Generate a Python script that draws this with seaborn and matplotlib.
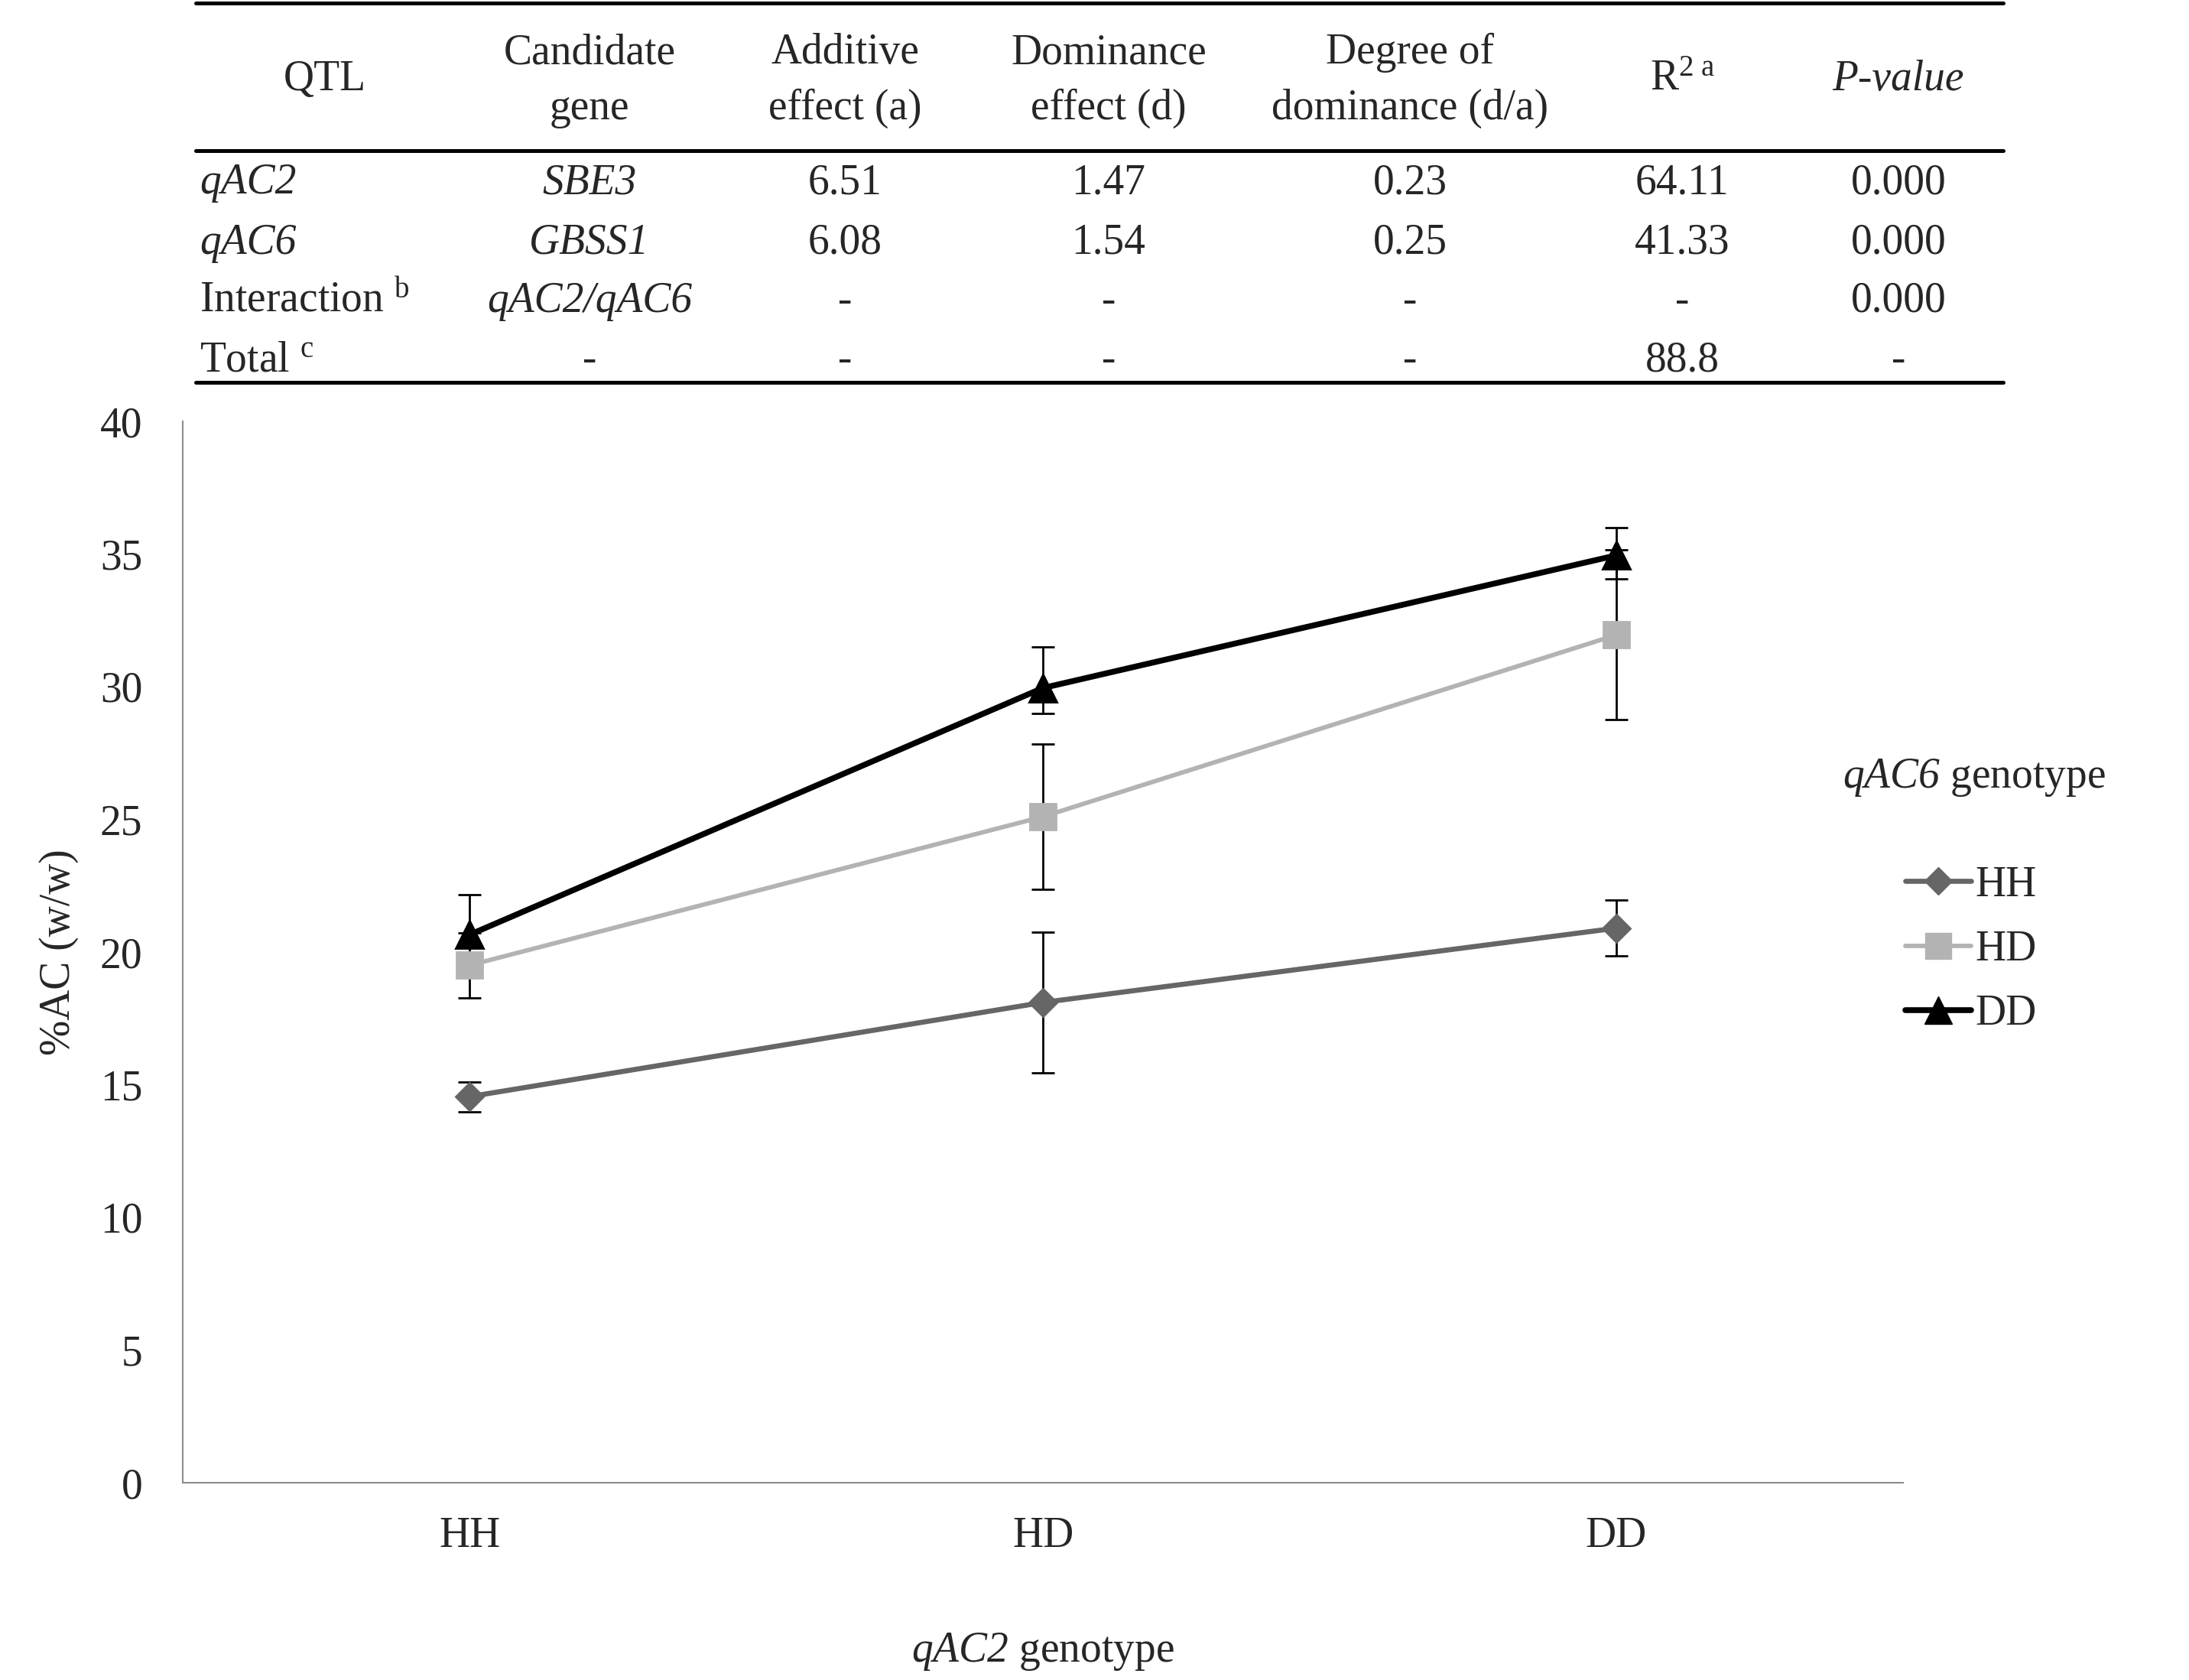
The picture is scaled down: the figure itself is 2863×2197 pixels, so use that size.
import numpy as np
import pandas as pd
import matplotlib.pyplot as plt
from matplotlib.lines import Line2D
import seaborn as sns

# Dữ liệu: %AC theo kiểu gen qAC2 (trục x) và qAC6 (chuỗi)
qac2_levels = ['HH', 'HD', 'DD']
qac6_levels = ['HH', 'HD', 'DD']
mean_hh = [14.55, 18.1, 20.9]
mean_hd = [19.5, 25.1, 31.95]
mean_dd = [20.65, 29.95, 34.95]
err_hh = [0.56, 2.65, 1.05]
err_hd = [1.23, 2.75, 3.2]
err_dd_low = [1.5, 0.95, 0.9]
err_dd_high = [1.5, 1.55, 1.05]

# Bảng phía trên
header = ['QTL', 'Candidate\ngene', 'Additive\neffect (a)', 'Dominance\neffect (d)',
          'Degree of\ndominance (d/a)', 'R', 'P-value']
qtl_col = ['qAC2', 'qAC6', 'Interaction', 'Total']
gene_col = ['SBE3', 'GBSS1', 'qAC2/qAC6', '-']
additive = ['6.51', '6.08', '-', '-']
dominance = ['1.47', '1.54', '-', '-']
degree = ['0.23', '0.25', '-', '-']
r2 = ['64.11', '41.33', '-', '88.8']
pval = ['0.000', '0.000', '0.000', '-']

sns.set_style('white')
plt.rcParams['font.family'] = ['Liberation Serif', 'DejaVu Serif']
plt.rcParams['mathtext.fontset'] = 'custom'
plt.rcParams['mathtext.rm'] = 'Liberation Serif'
plt.rcParams['mathtext.it'] = 'Liberation Serif:italic'
# dùng \mathsf cho chữ nghiêng kể cả chữ số
plt.rcParams['mathtext.sf'] = 'Liberation Serif:italic'

W, H = 2863, 2197
fig = plt.figure(figsize=(W / 100, H / 100), dpi=100)


def fx(x):
    return x / W


def fy(y):
    return 1 - y / H


# ---- bảng ----
FS = 40
for y in [4, 197, 500]:
    fig.add_artist(Line2D([fx(256), fx(2620)], [fy(y), fy(y)], color='black', lw=3.6))

col_x = [425, 771, 1105, 1450, 1844, 2200, 2483]
for i, h in enumerate(header):
    if '\n' in h:
        top, bot = h.split('\n')
        fig.text(fx(col_x[i]), fy(69), top, ha='center', va='center', fontsize=FS)
        fig.text(fx(col_x[i]), fy(142), bot, ha='center', va='center', fontsize=FS)
    elif h == 'R':
        fig.text(fx(col_x[i]), fy(104), r'R$^{2\ \mathrm{a}}$', ha='center', va='center', fontsize=FS)
    elif h == 'P-value':
        fig.text(fx(col_x[i]), fy(104), h, ha='center', va='center', fontsize=FS, style='italic')
    else:
        fig.text(fx(col_x[i]), fy(104), h, ha='center', va='center', fontsize=FS)

row_y = [239, 318, 394, 471]
sups = {'Interaction': 'b', 'Total': 'c'}
for r, y in enumerate(row_y):
    name = qtl_col[r]
    if name in sups:
        fig.text(fx(261), fy(y), name + r' $^{\mathrm{' + sups[name] + '}}$',
                 ha='left', va='center', fontsize=FS)
    else:
        fig.text(fx(261), fy(y), name, ha='left', va='center', fontsize=FS, style='italic')
    g = gene_col[r]
    fig.text(fx(col_x[1]), fy(y), g, ha='center', va='center', fontsize=FS,
             style='normal' if g == '-' else 'italic')
    for c, col in enumerate([additive, dominance, degree, r2, pval]):
        fig.text(fx(col_x[c + 2]), fy(y), col[r], ha='center', va='center', fontsize=FS)

# ---- biểu đồ đường ----
ax = fig.add_axes([fx(239), fy(1939), fx(2489) - fx(239), fy(551) - fy(1939)])

df = pd.DataFrame({
    'qAC2': qac2_levels * 3,
    'qAC6': np.repeat(qac6_levels, 3),
    'AC': mean_hh + mean_hd + mean_dd,
})
colors = {'HH': '#666666', 'HD': '#b3b3b3', 'DD': '#000000'}
markers = ['D', 's', '^']
msizes = {'D': 18, 's': 25, '^': 26}
lwidths = {'D': 4.8, 's': 4.2, '^': 5.5}

# thanh sai số (vẽ dưới đường)
x_pos = np.arange(len(qac2_levels))
ax.errorbar(x_pos, mean_hh, yerr=err_hh, fmt='none', ecolor='black', elinewidth=2,
            capsize=11, capthick=2, zorder=1)
ax.errorbar(x_pos, mean_hd, yerr=err_hd, fmt='none', ecolor='black', elinewidth=2,
            capsize=11, capthick=2, zorder=1)
ax.errorbar(x_pos, mean_dd, yerr=[err_dd_low, err_dd_high], fmt='none', ecolor='black',
            elinewidth=2, capsize=11, capthick=2, zorder=1)

sns.pointplot(data=df, x='qAC2', y='AC', hue='qAC6', order=qac2_levels,
              hue_order=qac6_levels, palette=colors, markers=markers,
              linestyles='-', errorbar=None, ax=ax, legend=False)
for ln in ax.lines:
    m = ln.get_marker()
    if m in msizes:
        ln.set_markersize(msizes[m])
        ln.set_linewidth(lwidths[m])
        ln.set_zorder(3)

ax.set_xlim(-0.5, 2.5)
ax.set_ylim(0, 40)
ax.set_yticks(np.arange(0, 41, 5))
ax.set_xlabel('')
ax.set_ylabel('')
ax.tick_params(axis='both', length=0, labelsize=40)
ax.tick_params(axis='x', pad=32)
ax.tick_params(axis='y', pad=38)
for s in ['top', 'right']:
    ax.spines[s].set_visible(False)
for s in ['left', 'bottom']:
    ax.spines[s].set_color('#8c8c8c')
    ax.spines[s].set_linewidth(1.5)

fig.text(fx(77), fy(1245), '%AC (w/w)', rotation=90, ha='center', va='center', fontsize=40)
fig.text(fx(1364), fy(2160), r'$\mathsf{qAC2}$ genotype', ha='center', va='center', fontsize=40)
fig.text(fx(2410), fy(1017), r'$\mathsf{qAC6}$ genotype', ha='left', va='center', fontsize=40)

handles = [Line2D([], [], color=colors[k], marker=m, markersize=msizes[m], lw=lwidths[m])
           for k, m in zip(qac6_levels, markers)]
ax.legend(handles, qac6_levels, loc='center left', bbox_to_anchor=(fx(2492), fy(1242)),
          bbox_transform=fig.transFigure, frameon=False, fontsize=40, borderpad=0,
          handlelength=1.55, handletextpad=0.1, labelspacing=0.58, borderaxespad=0)

plt.savefig('out.png', dpi=100)
